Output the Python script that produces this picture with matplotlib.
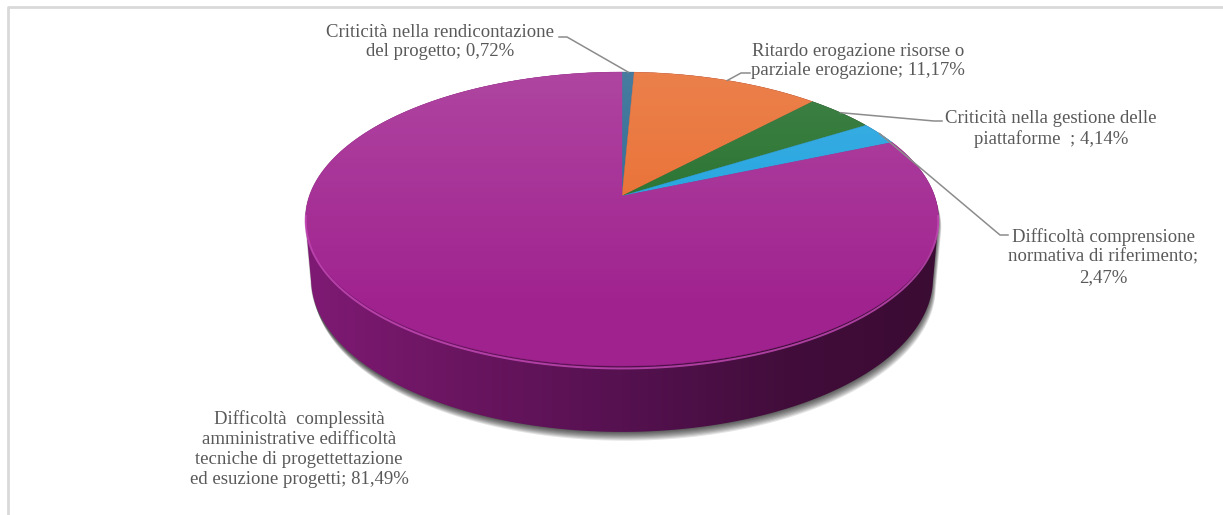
import numpy as np
import matplotlib.pyplot as plt
from matplotlib.patches import Polygon
from matplotlib.colors import LinearSegmentedColormap

# slices, clockwise from 12 o'clock
label_fmt = [
    "Criticità nella rendicontazione\ndel progetto; {}",
    "Ritardo erogazione risorse o\nparziale erogazione; {}",
    "Criticità nella gestione delle\npiattaforme  ; {}",
    "Difficoltà comprensione\nnormativa di riferimento;\n{}",
    "Difficoltà  complessità\namministrative edifficoltà\ntecniche di progettettazione\ned esuzione progetti; {}",
]
values = [0.72, 11.17, 4.14, 2.47, 81.49]
colors = ["#25648E", "#E8692A", "#1C6B24", "#19A0DE", "#A0228F"]

# label centre (px) and leader line points from label towards the slice
label_pos = [(440, 42), (858, 61), (1051, 129), (1103, 257), (299, 449)]
leader_pts = [[(559, 37), (567, 37)], [(750, 73), (741, 73)],
              [(942, 121), (934, 121)], [(1008, 235), (1000, 235)], None]

# perspective pie set-up (pixel units)
CX, CY = 622, 196
S = 312.6
ELEV = np.radians(27.3)
DIST = 5.68
DEPTH = 0.215


def project(phi, z=0.0):
    x = np.sin(phi)
    y = np.cos(phi)
    up = y * np.sin(ELEV) + z * np.cos(ELEV)
    dep = y * np.cos(ELEV) - z * np.sin(ELEV)
    k = DIST / (DIST + dep)
    return np.column_stack([CX + S * x * k, CY - S * up * k])


def pct(v):
    return f"{v:.2f}".replace(".", ",") + "%"


fig = plt.figure(figsize=(12.23, 5.15), dpi=100)
ax = fig.add_axes([0, 0, 1, 1])
ax.set_xlim(0, 1223)
ax.set_ylim(515, 0)
ax.axis("off")

# chart frame
ax.plot([8, 8, 1223], [515, 7, 7], color="#D9D9D9", lw=2, zorder=0)

fr = np.array(values) / np.sum(values)
bounds = np.concatenate([[0], np.cumsum(fr)]) * 2 * np.pi

# side hull: back half of the top rim + front half of the bottom rim
top_back = project(np.radians(np.linspace(-100, 100, 200)))
bot_front = project(np.radians(np.linspace(100, 260, 200)), -DEPTH)
hull = np.vstack([top_back, bot_front])

# soft drop shadow
for i in range(9):
    ax.add_patch(Polygon(hull + [i * 0.45 - 0.8, i * 1.1], closed=True,
                         facecolor="black", edgecolor="none", alpha=0.11, zorder=1))

side = Polygon(hull, closed=True, facecolor="none", edgecolor="none", zorder=2)
ax.add_patch(side)
side_cmap = LinearSegmentedColormap.from_list(
    "side", ["#801A75", "#6A1560", "#551150", "#420D3B", "#3A0B33"])
grad = np.linspace(0, 1, 256)[None, :]
im = ax.imshow(grad, cmap=side_cmap, extent=(300, 945, 450, 60),
               aspect="auto", zorder=2)
im.set_clip_path(side)

# top face
for a0, a1, c in zip(bounds[:-1], bounds[1:], colors):
    n = max(4, int((a1 - a0) / (2 * np.pi) * 400))
    arc = project(np.linspace(a0, a1, n))
    pts = np.vstack([[CX, CY], arc])
    ax.add_patch(Polygon(pts, closed=True, facecolor=c, edgecolor=c,
                         lw=0.3, zorder=3))

# light sheen on the upper part of the top face
top_rim = project(np.linspace(0, 2 * np.pi, 400))
top_clip = Polygon(top_rim, closed=True, facecolor="none", edgecolor="none", zorder=4)
ax.add_patch(top_clip)
sheen = np.ones((256, 2, 4))
sheen[:, :, 3] = np.clip(np.linspace(0.16, -0.04, 256), 0, 1)[:, None]
sh = ax.imshow(sheen, extent=(300, 945, 370, 70), aspect="auto", zorder=4)
sh.set_clip_path(top_clip)

# bright rim along the front edge
rim = project(np.radians(np.linspace(97, 263, 200)), -0.008)
ax.plot(rim[:, 0], rim[:, 1], color="#C64BB8", lw=1.4, alpha=0.8, zorder=5)

# labels and leader lines
mids = (bounds[:-1] + bounds[1:]) / 2
for fmt, v, (lx, ly), lead, m in zip(label_fmt, values, label_pos, leader_pts, mids):
    ax.text(lx, ly, fmt.format(pct(v)), ha="center", va="center",
            fontsize=13.5, family="Liberation Serif", color="#595959",
            linespacing=1.22, zorder=6)
    if lead is not None:
        anchor = project(np.array([m]))[0]
        xs = [p[0] for p in lead] + [anchor[0]]
        ys = [p[1] for p in lead] + [anchor[1]]
        ax.plot(xs, ys, color="#8C8C8C", lw=1.1, zorder=6)

ax.set_xlim(0, 1223)
ax.set_ylim(515, 0)
fig.savefig("out.png", dpi=100)
